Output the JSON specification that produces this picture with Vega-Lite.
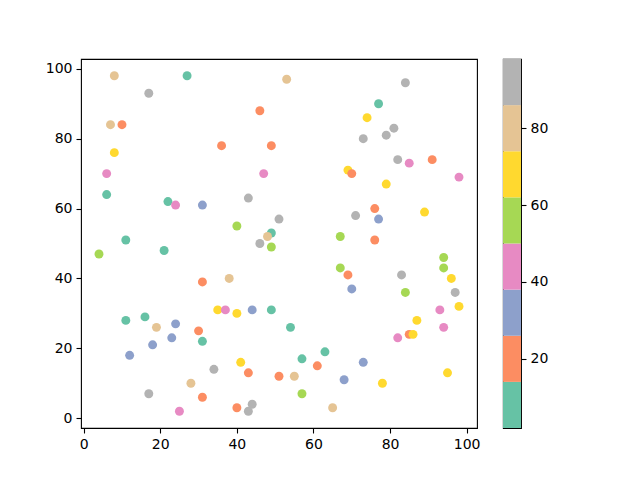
{
  "$schema": "https://vega.github.io/schema/vega-lite/v6.json",
  "padding": {"left": 44, "top": 58, "right": 5, "bottom": 5},
  "background": "white",
  "spacing": 21,
  "config": {
    "view": {"stroke": "black", "strokeWidth": 1.1},
    "font": "DejaVu Sans",
    "axis": {
      "grid": false,
      "domain": false,
      "tickColor": "black",
      "tickSize": 5,
      "tickWidth": 1.1,
      "labelColor": "black",
      "labelFont": "DejaVu Sans",
      "labelFontSize": 14,
      "labelPadding": 4,
      "title": null
    }
  },
  "datasets": {
    "points": [
      {"x": 8, "y": 98, "c": 80}, {"x": 27, "y": 98, "c": 8}, {"x": 17, "y": 93, "c": 92},
      {"x": 46, "y": 88, "c": 20}, {"x": 7, "y": 84, "c": 80}, {"x": 10, "y": 84, "c": 20},
      {"x": 36, "y": 78, "c": 20}, {"x": 49, "y": 78, "c": 20}, {"x": 8, "y": 76, "c": 68},
      {"x": 6, "y": 70, "c": 44}, {"x": 47, "y": 70, "c": 44}, {"x": 6, "y": 64, "c": 8},
      {"x": 43, "y": 63, "c": 92}, {"x": 22, "y": 62, "c": 8}, {"x": 24, "y": 61, "c": 44},
      {"x": 31, "y": 61, "c": 32}, {"x": 40, "y": 55, "c": 56}, {"x": 11, "y": 51, "c": 8},
      {"x": 49, "y": 53, "c": 8}, {"x": 46, "y": 50, "c": 92}, {"x": 48, "y": 52, "c": 80},
      {"x": 53, "y": 97, "c": 80}, {"x": 84, "y": 96, "c": 92}, {"x": 77, "y": 90, "c": 8},
      {"x": 74, "y": 86, "c": 68}, {"x": 81, "y": 83, "c": 92}, {"x": 79, "y": 81, "c": 92},
      {"x": 73, "y": 80, "c": 92}, {"x": 82, "y": 74, "c": 92}, {"x": 85, "y": 73, "c": 44},
      {"x": 91, "y": 74, "c": 20}, {"x": 98, "y": 69, "c": 44}, {"x": 69, "y": 71, "c": 68},
      {"x": 70, "y": 70, "c": 20}, {"x": 79, "y": 67, "c": 68}, {"x": 89, "y": 59, "c": 68},
      {"x": 76, "y": 60, "c": 20}, {"x": 77, "y": 57, "c": 32}, {"x": 71, "y": 58, "c": 92},
      {"x": 51, "y": 57, "c": 92}, {"x": 67, "y": 52, "c": 56}, {"x": 76, "y": 51, "c": 20},
      {"x": 4, "y": 47, "c": 56}, {"x": 21, "y": 48, "c": 8}, {"x": 49, "y": 49, "c": 56},
      {"x": 31, "y": 39, "c": 20}, {"x": 38, "y": 40, "c": 80}, {"x": 35, "y": 31, "c": 68},
      {"x": 37, "y": 31, "c": 44}, {"x": 40, "y": 30, "c": 68}, {"x": 44, "y": 31, "c": 32},
      {"x": 49, "y": 31, "c": 8}, {"x": 11, "y": 28, "c": 8}, {"x": 16, "y": 29, "c": 8},
      {"x": 24, "y": 27, "c": 32}, {"x": 19, "y": 26, "c": 80}, {"x": 30, "y": 25, "c": 20},
      {"x": 23, "y": 23, "c": 32}, {"x": 31, "y": 22, "c": 8}, {"x": 18, "y": 21, "c": 32},
      {"x": 12, "y": 18, "c": 32}, {"x": 41, "y": 16, "c": 68}, {"x": 34, "y": 14, "c": 92},
      {"x": 43, "y": 13, "c": 20}, {"x": 28, "y": 10, "c": 80}, {"x": 17, "y": 7, "c": 92},
      {"x": 31, "y": 6, "c": 20}, {"x": 40, "y": 3, "c": 20}, {"x": 44, "y": 4, "c": 92},
      {"x": 43, "y": 2, "c": 92}, {"x": 25, "y": 2, "c": 44}, {"x": 94, "y": 46, "c": 56},
      {"x": 94, "y": 43, "c": 56}, {"x": 67, "y": 43, "c": 56}, {"x": 69, "y": 41, "c": 20},
      {"x": 83, "y": 41, "c": 92}, {"x": 96, "y": 40, "c": 68}, {"x": 70, "y": 37, "c": 32},
      {"x": 97, "y": 36, "c": 92}, {"x": 84, "y": 36, "c": 56}, {"x": 98, "y": 32, "c": 68},
      {"x": 93, "y": 31, "c": 44}, {"x": 54, "y": 26, "c": 8}, {"x": 87, "y": 28, "c": 68},
      {"x": 94, "y": 26, "c": 44}, {"x": 82, "y": 23, "c": 44}, {"x": 85, "y": 24, "c": 20},
      {"x": 86, "y": 24, "c": 68}, {"x": 63, "y": 19, "c": 8}, {"x": 57, "y": 17, "c": 8},
      {"x": 73, "y": 16, "c": 32}, {"x": 61, "y": 15, "c": 20}, {"x": 51, "y": 12, "c": 20},
      {"x": 55, "y": 12, "c": 80}, {"x": 68, "y": 11, "c": 32}, {"x": 78, "y": 10, "c": 68},
      {"x": 95, "y": 13, "c": 68}, {"x": 57, "y": 7, "c": 56}, {"x": 65, "y": 3, "c": 80}
    ],
    "bar": [
      {"lo": 2, "hi": 14, "c": 8, "a": 0, "b": 1},
      {"lo": 14, "hi": 26, "c": 20, "a": 0, "b": 1},
      {"lo": 26, "hi": 38, "c": 32, "a": 0, "b": 1},
      {"lo": 38, "hi": 50, "c": 44, "a": 0, "b": 1},
      {"lo": 50, "hi": 62, "c": 56, "a": 0, "b": 1},
      {"lo": 62, "hi": 74, "c": 68, "a": 0, "b": 1},
      {"lo": 74, "hi": 86, "c": 80, "a": 0, "b": 1},
      {"lo": 86, "hi": 98, "c": 92, "a": 0, "b": 1}
    ]
  },
  "hconcat": [
    {
      "width": 396,
      "height": 369,
      "data": {"name": "points"},
      "mark": {"type": "circle", "size": 80, "opacity": 1},
      "encoding": {
        "x": {
          "field": "x", "type": "quantitative",
          "scale": {"domain": [-0.7, 102.7], "nice": false, "zero": false},
          "axis": {"values": [0, 20, 40, 60, 80, 100]}
        },
        "y": {
          "field": "y", "type": "quantitative",
          "scale": {"domain": [-2.8, 102.8], "nice": false, "zero": false},
          "axis": {"values": [0, 20, 40, 60, 80, 100]}
        },
        "color": {
          "field": "c", "type": "quantitative",
          "scale": {
            "type": "quantize",
            "domain": [2, 98],
            "range": ["#66c2a5", "#fc8d62", "#8da0cb", "#e78ac3", "#a6d854", "#ffd92f", "#e5c494", "#b3b3b3"]
          },
          "legend": null
        }
      }
    },
    {
      "width": 18,
      "height": 369,
      "data": {"name": "bar"},
      "mark": {"type": "rect"},
      "encoding": {
        "x": {"field": "a", "type": "quantitative", "scale": {"domain": [0, 1], "nice": false}, "axis": null},
        "x2": {"field": "b"},
        "y": {
          "field": "lo", "type": "quantitative",
          "scale": {"domain": [2, 98], "nice": false, "zero": false},
          "axis": {"orient": "right", "values": [20, 40, 60, 80]}
        },
        "y2": {"field": "hi"},
        "color": {
          "field": "c", "type": "quantitative",
          "scale": {
            "type": "quantize",
            "domain": [2, 98],
            "range": ["#66c2a5", "#fc8d62", "#8da0cb", "#e78ac3", "#a6d854", "#ffd92f", "#e5c494", "#b3b3b3"]
          },
          "legend": null
        }
      }
    }
  ]
}
